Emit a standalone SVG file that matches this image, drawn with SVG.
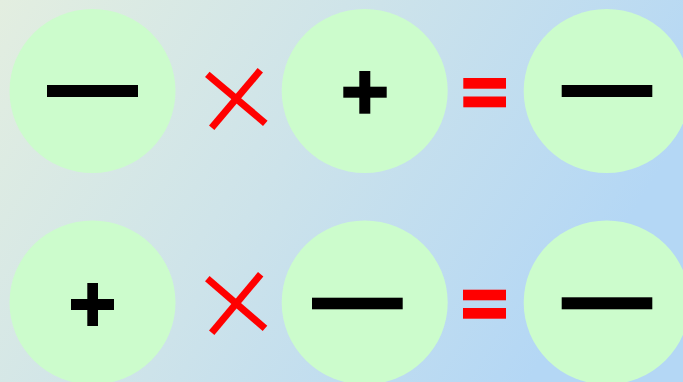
<svg xmlns="http://www.w3.org/2000/svg" width="683" height="382" viewBox="0 0 683 382">
<defs>
<linearGradient id="bg" x1="0" y1="0" x2="1" y2="0.35">
<stop offset="0" stop-color="#e3eee0"/>
<stop offset="0.5" stop-color="#cde3ea"/>
<stop offset="1" stop-color="#b4d7f5"/>
</linearGradient>
<style>
.c{fill:#ccfccc}
.s{fill:#000}
.x{stroke:#ff0000;stroke-width:7;fill:none}
.e{fill:#ff0000}
</style>
</defs>
<rect width="683" height="382" fill="url(#bg)"/>
<g id="row1">
<g id="n1"><ellipse class="c" cx="92.5" cy="91" rx="83" ry="82"/><rect class="s" x="47" y="85" width="91" height="12"/></g>
<g id="op1"><line class="x" x1="207.3" y1="74.3" x2="265.3" y2="123.3"/><line class="x" x1="260.3" y1="70.3" x2="211.7" y2="127.7"/></g>
<g id="n2"><ellipse class="c" cx="364.7" cy="91" rx="83" ry="82"/><rect class="s" x="343.3" y="86.7" width="43.4" height="11"/><rect class="s" x="359.3" y="71" width="11" height="42.7"/></g>
<g id="eq1"><rect class="e" x="463.3" y="78" width="42.7" height="10.7"/><rect class="e" x="463.3" y="96.5" width="42.7" height="10.8"/></g>
<g id="n3"><ellipse class="c" cx="606.7" cy="91" rx="83" ry="82"/><rect class="s" x="561.7" y="85" width="90.6" height="12"/></g>
</g>
<g id="row2">
<g id="n4"><ellipse class="c" cx="92.5" cy="302.5" rx="83" ry="82"/><rect class="s" x="71" y="299" width="43" height="11"/><rect class="s" x="87.3" y="283" width="10.7" height="43"/></g>
<g id="op2"><line class="x" x1="207.3" y1="278.7" x2="265" y2="328.3"/><line class="x" x1="260.7" y1="274.3" x2="211.7" y2="332.7"/></g>
<g id="n5"><ellipse class="c" cx="364.7" cy="302.5" rx="83" ry="82"/><rect class="s" x="312" y="297.7" width="90.7" height="11.6"/></g>
<g id="eq2"><rect class="e" x="463" y="289.7" width="43" height="10.6"/><rect class="e" x="463" y="308" width="43" height="10.7"/></g>
<g id="n6"><ellipse class="c" cx="606.7" cy="302.5" rx="83" ry="82"/><rect class="s" x="561.7" y="297.3" width="90.6" height="12"/></g>
</g>
<g id="connectors"/>
</svg>
